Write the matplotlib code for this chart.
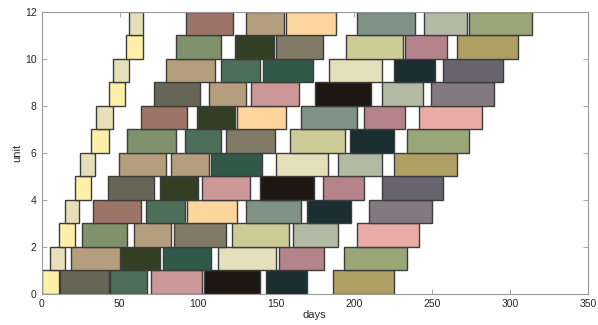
import numpy as np
import matplotlib
matplotlib.use('Agg')
import matplotlib.pyplot as plt

plt.rcParams['font.family'] = ['Liberation Sans', 'DejaVu Sans']

# palette of the task colours
palette = {
    'yellow': '#fef0a8', 'beige': '#e7dfba', 'olivegray': '#676656',
    'green': '#4d6e58', 'pink': '#cc9797', 'black': '#1c1713',
    'darkteal': '#1a2d31', 'gold': '#b09f63', 'tan': '#b59e7e',
    'darkolive': '#333f25', 'darkgreen': '#30594a', 'cream': '#e6dfbb',
    'mauve': '#b5838a', 'sagegreen': '#99a678', 'sage': '#7f926b',
    'taupe': '#807a67', 'khaki': '#cdcc96', 'graysage': '#b3b9a3',
    'salmon': '#e8aba6', 'brownrose': '#9c7568', 'peach': '#fdd69e',
    'graygreen': '#7e9385', 'graymauve': '#827a7e', 'slate': '#676470',
}

# start / end day of each task, one list per unit (row 0 at the bottom)
starts = [
    [0, 11.7, 43.9, 70, 104, 143.8, 186.5],
    [5.2, 19.1, 50.7, 78, 113, 152.3, 193.8],
    [11, 26.1, 59.3, 84.9, 122.2, 161.1, 202],
    [15.2, 33, 67.1, 93, 131.2, 169.9, 210],
    [21.7, 42.8, 75.9, 102.8, 139.8, 180.5, 218.1],
    [24.5, 49.8, 83.2, 108.4, 150, 190.1, 226],
    [31.9, 55, 92, 118, 159, 197.6, 234],
    [35.1, 64, 99.8, 125, 166.5, 206.8, 242],
    [43, 72.1, 107.1, 134, 175, 218, 249.7],
    [46, 80, 114.8, 141.9, 184.2, 225.8, 257],
    [53.9, 86, 124, 150, 195, 232.9, 266],
    [55.9, 92.8, 131.2, 156.8, 202, 245, 274],
]
ends = [
    [11, 43.2, 67.4, 103, 140.2, 170, 226],
    [14.9, 50.1, 75.9, 108.8, 150, 181, 234],
    [21.7, 55, 82.8, 118, 158.5, 190, 242],
    [23.8, 64, 92.1, 125, 166.4, 198, 250],
    [31.9, 72.1, 100.3, 133.8, 174.6, 206.8, 257],
    [34.5, 80, 107.1, 141.4, 183.7, 218, 266],
    [43, 86, 115, 149.8, 194.6, 225.8, 274],
    [45.8, 93.2, 124.2, 156.8, 202, 232.9, 282],
    [53.7, 101.7, 130.8, 164.8, 210.9, 244.6, 289.9],
    [55.9, 111, 139.8, 173.9, 218, 252.1, 295.8],
    [65, 114.8, 149, 180.5, 231.8, 260, 305],
    [65, 122.9, 155.2, 188.7, 239.3, 272.8, 314],
]
colors = [
    ['yellow', 'olivegray', 'green', 'pink', 'black', 'darkteal', 'gold'],
    ['beige', 'tan', 'darkolive', 'darkgreen', 'cream', 'mauve', 'sagegreen'],
    ['yellow', 'sage', 'tan', 'taupe', 'khaki', 'graysage', 'salmon'],
    ['beige', 'brownrose', 'green', 'peach', 'graygreen', 'darkteal', 'graymauve'],
    ['yellow', 'olivegray', 'darkolive', 'pink', 'black', 'mauve', 'slate'],
    ['beige', 'tan', 'tan', 'darkgreen', 'cream', 'graysage', 'gold'],
    ['yellow', 'sage', 'green', 'taupe', 'khaki', 'darkteal', 'sagegreen'],
    ['beige', 'brownrose', 'darkolive', 'peach', 'graygreen', 'mauve', 'salmon'],
    ['yellow', 'olivegray', 'tan', 'pink', 'black', 'graysage', 'graymauve'],
    ['beige', 'tan', 'green', 'darkgreen', 'cream', 'darkteal', 'slate'],
    ['yellow', 'sage', 'darkolive', 'taupe', 'khaki', 'mauve', 'gold'],
    ['beige', 'brownrose', 'tan', 'peach', 'graygreen', 'graysage', 'sagegreen'],
]

fig = plt.figure(figsize=(5.98, 3.25), dpi=100)
ax = fig.add_axes([0.0694, 0.0954, 0.9139, 0.8686])

for unit in range(len(starts)):
    s = np.array(starts[unit])
    e = np.array(ends[unit])
    ax.barh(unit, e - s, left=s, height=1, align='edge',
            color=[palette[c] for c in colors[unit]],
            edgecolor='#3c3c3c', linewidth=1.0, zorder=2)

ax.set_xlim(0, 350)
ax.set_ylim(0, 12)
ax.set_xticks(np.arange(0, 351, 50))
ax.set_yticks(np.arange(0, 13, 2))
ax.tick_params(direction='in', length=3.5, width=0.6, colors='#999999',
               labelcolor='#262626', labelsize=7.5, top=True, right=True)
for sp in ax.spines.values():
    sp.set_color('#999999')
    sp.set_linewidth(0.8)
ax.set_xlabel('days', fontsize=8, color='#262626', labelpad=1)
ax.set_ylabel('unit', fontsize=8, color='#262626', labelpad=2)

fig.savefig('out.png', dpi=100)
